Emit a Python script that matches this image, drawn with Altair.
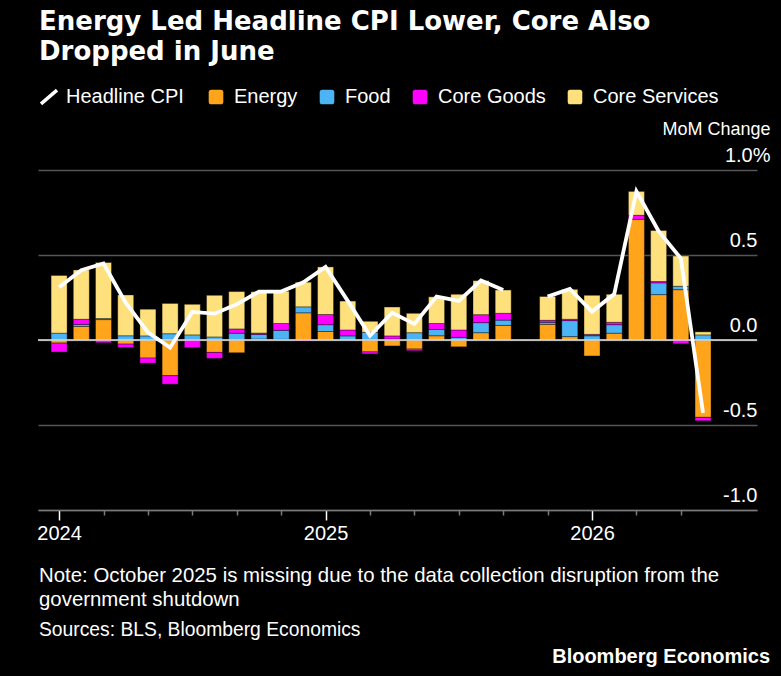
import altair as alt
import pandas as pd

# ---------------- data ----------------
months = [
    "2024-01", "2024-02", "2024-03", "2024-04", "2024-05", "2024-06",
    "2024-07", "2024-08", "2024-09", "2024-10", "2024-11", "2024-12",
    "2025-01", "2025-02", "2025-03", "2025-04", "2025-05", "2025-06",
    "2025-07", "2025-08", "2025-09", "2025-10", "2025-11", "2025-12",
    "2026-01", "2026-02", "2026-03", "2026-04", "2026-05", "2026-06",
]
# None = October 2025, no data
energy = [-0.018, 0.08, 0.12, -0.024, -0.106, -0.21, 0.0, -0.073, -0.075, 0.006,
          0.004, 0.16, 0.05, 0.0, -0.07, -0.035, -0.053, 0.025, -0.04, 0.043,
          0.086, None, 0.092, 0.02, -0.094, 0.04, 0.71, 0.267, 0.296, -0.455]
food = [0.04, 0.012, 0.006, 0.025, 0.024, 0.037, 0.03, 0.018, 0.04, 0.027,
        0.053, 0.035, 0.04, 0.024, 0.045, 0.006, 0.043, 0.037, 0.016, 0.059,
        0.031, None, 0.012, 0.094, 0.025, 0.05, 0.0, 0.069, 0.02, 0.03]
core_goods = [-0.053, 0.03, -0.016, -0.02, -0.03, -0.05, -0.045, -0.035, 0.025, 0.008,
              0.04, -0.006, 0.06, 0.035, -0.012, 0.018, -0.01, 0.035, 0.043, 0.047,
              0.04, None, 0.012, 0.008, 0.008, 0.014, 0.024, 0.008, -0.022, -0.02]
core_services = [0.34, 0.29, 0.33, 0.24, 0.157, 0.178, 0.18, 0.245, 0.22, 0.243,
                 0.19, 0.145, 0.28, 0.17, 0.065, 0.17, 0.114, 0.157, 0.21, 0.2,
                 0.137, None, 0.14, 0.176, 0.23, 0.165, 0.14, 0.3, 0.178, 0.018]
headline = [0.31, 0.41, 0.45, 0.22, 0.045, -0.045, 0.165, 0.155, 0.21, 0.285,
            0.285, 0.34, 0.43, 0.23, 0.025, 0.16, 0.095, 0.255, 0.23, 0.35,
            0.294, None, 0.255, 0.30, 0.167, 0.27, 0.875, 0.64, 0.48, -0.43]

components = ["Energy", "Food", "Core Goods", "Core Services"]
component_colors = ["#FFA41B", "#4CB4F5", "#FF00FF", "#FEE07C"]
year_labels = ["2024", "2025", "2026"]
y_ticks = [-1.0, -0.5, 0.0, 0.5, 1.0]
y_labels = ["-1.0", "-0.5", "0.0", "0.5", "1.0%"]

title_lines = ["Energy Led Headline CPI Lower, Core Also", "Dropped in June"]
note_lines = ["Note: October 2025 is missing due to the data collection disruption from the",
              "government shutdown"]
source_line = "Sources: BLS, Bloomberg Economics"
brand_line = "Bloomberg Economics"

# ---------------- tables ----------------
rows = []
for i, m in enumerate(months):
    for order, (name, series) in enumerate(zip(components, [energy, food, core_goods, core_services])):
        v = series[i]
        if v is None or v == 0:
            continue
        rows.append({"idx": i, "month": m, "component": name, "value": v, "order": order})
bars_df = pd.DataFrame(rows)

line_rows = []
segment = 0
for i, m in enumerate(months):
    if headline[i] is None:
        segment += 1
        continue
    line_rows.append({"idx": i, "month": m, "headline": headline[i], "segment": segment,
                      "series": "Headline CPI"})
line_df = pd.DataFrame(line_rows)

FONT = "Liberation Sans"
W, H = 719, 340

year_expr = " : ".join(
    [f"datum.value == {12 * k} ? '{lab}'" for k, lab in enumerate(year_labels)]) + " : ''"
ylab_expr = " : ".join(
    [f"datum.value == {v} ? '{lab}'" for v, lab in zip(y_ticks, y_labels)]) + " : ''"

x_enc = alt.X(
    "idx:Q",
    scale=alt.Scale(domain=[-0.95, 31.43], nice=False, zero=False, padding=0),
    axis=alt.Axis(
        values=list(range(len(months))),
        labelExpr=year_expr,
        labelFlush=False,
        labelOverlap=False,
        labelColor="#ffffff",
        labelFont=FONT,
        labelFontSize=20,
        labelPadding=3,
        labelBaseline="top",
        domainColor="#7a7a7a",
        domainWidth=1.5,
        tickSize={"condition": {"test": "datum.value % 12 == 0", "value": 10}, "value": 5},
        tickColor={"condition": {"test": "datum.value % 12 == 0", "value": "#ffffff"},
                   "value": "#7a7a7a"},
        tickWidth=1.5,
        grid=False,
        title=None,
    ),
)

y_enc = alt.Y(
    "value:Q",
    stack="zero",
    scale=alt.Scale(domain=[-1.0, 1.0], nice=False, zero=False),
    axis=alt.Axis(
        orient="right",
        values=y_ticks,
        labelExpr=ylab_expr,
        labelAlign="right",
        labelBaseline="alphabetic",
        labelOffset=-9,
        labelPadding={"condition": {"test": "datum.value == 1", "value": 13}, "value": 0},
        labelColor="#ffffff",
        labelFont=FONT,
        labelFontSize=20,
        ticks=False,
        tickSize=0,
        domain=False,
        grid=True,
        gridColor="#555555",
        gridWidth=1.5,
        title="MoM Change",
        titleAngle=0,
        titleAlign="right",
        titleBaseline="alphabetic",
        titleX=13,
        titleY=-36,
        titleFont=FONT,
        titleFontSize=18,
        titleFontWeight="normal",
        titleColor="#ffffff",
    ),
)

rounded_square = ("M-0.65,-1 L0.65,-1 Q1,-1 1,-0.65 L1,0.65 Q1,1 0.65,1 L-0.65,1 "
                  "Q-1,1 -1,0.65 L-1,-0.65 Q-1,-1 -0.65,-1 Z")

bars = alt.Chart(bars_df).mark_bar(size=16, stroke="#000000", strokeWidth=0.8,
                                   strokeOpacity=0.45).encode(
    x=x_enc,
    y=y_enc,
    color=alt.Color(
        "component:N",
        scale=alt.Scale(domain=components, range=component_colors),
        legend=alt.Legend(
            orient="none", legendX=168, legendY=-83, direction="horizontal",
            title=None, symbolType=rounded_square, symbolSize=213,
            symbolStrokeWidth=0, symbolOpacity=1, labelOffset=8, columnPadding=19,
            labelFont=FONT, labelFontSize=20, labelColor="#ffffff",
        ),
    ),
    order=alt.Order("order:Q", sort="ascending"),
)

zero_rule = alt.Chart(pd.DataFrame({"z": [0.0]})).mark_rule(
    color="#e6e6e6", strokeWidth=1.5).encode(y=alt.Y("z:Q"))

line = alt.Chart(line_df).mark_line(strokeWidth=3.8, strokeJoin="miter").encode(
    x=alt.X("idx:Q"),
    y=alt.Y("headline:Q"),
    detail="segment:N",
    color=alt.Color(
        "series:N",
        scale=alt.Scale(domain=["Headline CPI"], range=["#ffffff"]),
        legend=alt.Legend(
            orient="none", legendX=1, legendY=-83, direction="horizontal",
            title=None, symbolType="M-1,0.85 L1,-0.85", symbolSize=256,
            symbolStrokeWidth=3.5, labelOffset=7,
            labelFont=FONT, labelFontSize=20, labelColor="#ffffff",
        ),
    ),
)

note = alt.Chart(pd.DataFrame({"t": [note_lines[0]]})).mark_text(
    align="left", baseline="alphabetic", font=FONT, fontSize=20.4, color="#ffffff"
).encode(text="t:N", x=alt.value(1), y=alt.value(412))
note2 = alt.Chart(pd.DataFrame({"t": [note_lines[1]]})).mark_text(
    align="left", baseline="alphabetic", font=FONT, fontSize=20.4, color="#ffffff"
).encode(text="t:N", x=alt.value(1), y=alt.value(436))
sources = alt.Chart(pd.DataFrame({"t": [source_line]})).mark_text(
    align="left", baseline="alphabetic", font=FONT, fontSize=19.3, color="#ffffff"
).encode(text="t:N", x=alt.value(1), y=alt.value(466))
brand = alt.Chart(pd.DataFrame({"t": [brand_line]})).mark_text(
    align="right", baseline="alphabetic", font=FONT, fontSize=20, fontWeight="bold",
    color="#ffffff"
).encode(text="t:N", x=alt.value(732), y=alt.value(493))

chart = alt.layer(bars, zero_rule, line, note, note2, sources, brand).resolve_scale(
    color="independent"
).properties(
    width=W,
    height=H,
    padding={"left": 38, "top": 170, "right": 24, "bottom": 166},
    autosize=alt.AutoSizeParams(type="none"),
    background="#000000",
    title=alt.TitleParams(
        text=title_lines, anchor="start", frame="group", orient="top",
        font="DejaVu Sans", fontSize=26, fontWeight="bold", color="#ffffff",
        lineHeight=30, offset=22, dx=1,
    ),
).configure_view(stroke=None)

chart.save("out.html", embed_options={"renderer": "svg", "actions": False})
